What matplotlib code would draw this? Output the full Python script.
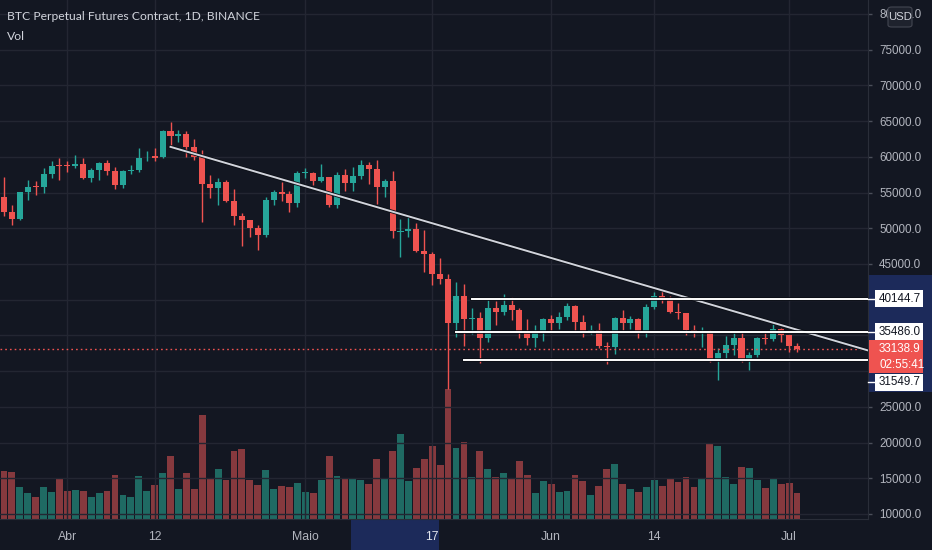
import numpy as np
import matplotlib
matplotlib.use("Agg")
import matplotlib.pyplot as plt
import matplotlib.transforms as mtransforms
import matplotlib.patheffects as pe
from matplotlib.patches import Rectangle, FancyBboxPatch

# daily candles, 24 Mar -> 2 Jul 2021
opens = [54342, 52303, 51293, 55025, 55817, 55777, 57628, 58730, 58736, 58720,
         58950, 57051, 58202, 59116, 57988, 56000, 58088, 58103, 59778, 60100,
         59958, 63575, 62959, 63159, 61334, 60006, 56150, 55633, 56425, 53787,
         51690, 51125, 50047, 49004, 54021, 55033, 54825, 53555, 57697, 57798,
         56578, 57169, 53205, 57436, 56393, 57315, 58866, 58240, 55816, 56670,
         49537, 49671, 49841, 46763, 46426, 43538, 42849, 36671, 40526, 37253,
         37449, 34681, 38810, 38324, 39241, 38529, 35661, 34606, 35641, 37254,
         36694, 37568, 39188, 36856, 35520, 35797, 33556, 33380, 37388, 36677,
         37331, 35546, 39021, 40516, 40143, 38349, 38099, 35820, 35483, 35600,
         31614, 32510, 33675, 34663, 31576, 32283, 34702, 34494, 35911, 35045,
         33502]
highs = [57200, 53230, 55073, 56700, 56559, 58400, 59368, 59800, 59490, 60200,
         59791, 58493, 59251, 59494, 58650, 58153, 58894, 61220, 60800, 61300,
         63800, 64854, 63800, 63565, 62500, 61000, 57526, 57076, 56757, 55500,
         52130, 51166, 50500, 54356, 55400, 56428, 55200, 58000, 58450, 57950,
         58981, 57200, 57911, 58360, 58650, 59500, 59300, 59500, 56862, 58000,
         51367, 51570, 50700, 49800, 46686, 45800, 43546, 42451, 42200, 38829,
         38270, 39920, 39791, 40841, 40411, 38877, 37338, 36400, 37499, 37894,
         38225, 39476, 39289, 37925, 36480, 36800, 34068, 37534, 38491, 37680,
         37463, 39380, 41064, 41330, 40527, 39560, 38200, 36457, 36139, 35750,
         33298, 34881, 35298, 35500, 32730, 34749, 35297, 36600, 36100, 35057,
         33977]
lows = [51700, 50427, 51229, 53962, 54691, 54900, 57000, 56769, 57935, 58428,
        56900, 56478, 56800, 57413, 55473, 55700, 57654, 57870, 59397, 59360,
        59800, 61301, 62020, 60000, 59580, 50931, 54221, 53329, 53695, 50400,
        47500, 48733, 47000, 48800, 53222, 53813, 52330, 53013, 57052, 56035,
        56435, 53046, 52900, 55200, 55241, 56900, 56235, 53400, 54370, 48600,
        46000, 48800, 46650, 43825, 42001, 42250, 27500, 34850, 33488, 35200,
        31111, 34031, 36419, 37800, 37134, 34684, 33632, 33379, 34153, 35666,
        35920, 37170, 35555, 34800, 35258, 33300, 31000, 32396, 35782, 35936,
        34600, 34757, 38730, 39506, 38116, 37365, 35129, 34803, 33336, 31251,
        28805, 31683, 32286, 31275, 30151, 31973, 33862, 34225, 34017, 32711,
        32699]
closes = [52303, 51293, 55025, 55817, 55777, 57628, 58730, 58700, 58720, 58950,
          57051, 58202, 59116, 57988, 56000, 58088, 58103, 59778, 59846, 59850,
          63577, 62959, 63159, 61334, 60006, 56150, 55633, 56425, 53787, 51690,
          51125, 50047, 49004, 54022, 55033, 54824, 53555, 57694, 57797, 56578,
          57169, 53200, 57436, 56393, 57314, 58862, 58240, 55816, 56670, 49631,
          49671, 49841, 46762, 46431, 43538, 42849, 36690, 40526, 37252, 37449,
          34655, 38796, 38324, 39241, 38529, 35664, 34606, 35641, 37253, 36694,
          37568, 39188, 36856, 35520, 35797, 33552, 33380, 37388, 36675, 37331,
          35546, 39020, 40516, 40144, 38349, 38092, 35819, 35483, 35600, 31608,
          32509, 33678, 34663, 31584, 32283, 34700, 34494, 35911, 35045, 33504,
          33139]
# volume, thousand BTC
volumes = [483, 473, 316, 260, 220, 316, 273, 413, 283, 293,
           283, 216, 260, 283, 436, 240, 216, 426, 283, 336,
           456, 633, 303, 460, 303, 1036, 403, 503, 393, 676,
           700, 393, 336, 493, 303, 326, 316, 360, 273, 260,
           393, 633, 426, 413, 406, 393, 350, 600, 403, 676,
           853, 383, 513, 600, 733, 543, 1300, 710, 773, 420,
           676, 500, 420, 456, 403, 576, 443, 260, 380, 346,
           270, 280, 443, 380, 236, 333, 500, 553, 346, 300,
           270, 323, 390, 333, 410, 370, 420, 323, 400, 763,
           730, 420, 346, 520, 510, 390, 313, 400, 346, 360,
           260]

time_ticks = [8, 19, 38, 54, 69, 82, 99]
time_labels = ["Abr", "12", "Maio", "17", "Jun", "14", "Jul"]
price_ticks = [10000, 15000, 20000, 25000, 45000, 50000, 55000, 60000,
               65000, 70000, 75000, 80000]
grid_prices = list(range(10000, 80001, 5000))

level_lines = [40144.7, 35486.0, 31549.7]
level_starts = [59, 57, 58]
trend_x = [21, 100]
trend_y = [61400, 35800]
last_price = 33138.9
countdown = "02:55:41"

BG = "#131722"
GRID = "#232632"
TXT = "#b2b5be"
UP = "#26a69a"
DOWN = "#ef5350"
VOL_UP = "#1f6a63"
VOL_DOWN = "#86393e"
HL = "#1c2a5a"
NUMFONT = "Liberation Sans"
TITLEFONT = "Lato"

W, H = 932, 550
fig = plt.figure(figsize=(W / 100, H / 100), dpi=100, facecolor=BG)
ax = fig.add_axes([0, 31 / H, 868 / W, 519 / H])
x = np.arange(len(opens))
o = np.array(opens, float)
c = np.array(closes, float)
up = c >= o

ax.set_xlim(-0.5, 108.95)
ax.set_ylim(9300, 81960)

# grid
for gp in grid_prices:
    ax.axhline(gp, color=GRID, lw=1, zorder=0)
for t in time_ticks:
    ax.axvline(t, color=GRID, lw=1, zorder=0)

# volume overlay (own hidden scale)
axv = ax.twinx()
axv.set_ylim(0, 5190)
axv.set_axis_off()
axv.bar(x, volumes, width=0.86, color=[VOL_UP if u else VOL_DOWN for u in up],
        lw=0, antialiased=False)
ax.set_zorder(axv.get_zorder() + 1)
ax.patch.set_visible(False)

# candles
cols = [UP if u else DOWN for u in up]
ax.vlines(x, lows, highs, colors=cols, lw=1, zorder=3)
body_lo = np.minimum(o, c)
body_h = np.maximum(np.abs(c - o), 120)
ax.bar(x, body_h, bottom=body_lo, width=0.76, color=cols, lw=0, zorder=4)

# drawings
xr = ax.get_xlim()[1]
shadow = [pe.Stroke(linewidth=2.6, foreground="#0b0e15"), pe.Normal()]
slope = (trend_y[1] - trend_y[0]) / (trend_x[1] - trend_x[0])
ax.plot([trend_x[0], xr], [trend_y[0], trend_y[0] + slope * (xr - trend_x[0])],
        color="#d1d4dc", lw=1.4, zorder=6, path_effects=shadow)
for lv, st in zip(level_lines, level_starts):
    ax.plot([st, xr], [lv, lv], color="white", lw=1.4, zorder=6, path_effects=shadow)
ax.axhline(last_price, color=DOWN, lw=1, ls=(0, (1.2, 2.2)), zorder=5)

# price scale on the right
ax.yaxis.tick_right()
ax.set_yticks(price_ticks)
ax.set_yticklabels([f"{p:.1f}" for p in price_ticks])
ax.tick_params(axis="y", length=3, width=1, color="#4a4e59", pad=5,
               labelcolor=TXT, labelsize=8.4)
ax.set_xticks(time_ticks)
ax.set_xticklabels(time_labels)
ax.tick_params(axis="x", length=0, pad=9, labelcolor=TXT, labelsize=8.8)
for lab in ax.get_xticklabels() + ax.get_yticklabels():
    lab.set_fontfamily(NUMFONT)
for lab in ax.get_xticklabels():
    if lab.get_text() == "17":
        lab.set_color("#e0e3eb")
for s in ax.spines.values():
    s.set_visible(False)
ax.spines["right"].set_visible(True)
ax.spines["right"].set_color("#2a2e39")
ax.spines["bottom"].set_visible(True)
ax.spines["bottom"].set_color("#2a2e39")

# highlighted ranges on both scales
tr_xfig = mtransforms.blended_transform_factory(ax.transData, fig.transFigure)
fig.add_artist(Rectangle((43.75, 0), 11.1, 30.5 / H, transform=tr_xfig,
                         facecolor=HL, edgecolor="none", zorder=0.5))
tr_yfig = mtransforms.blended_transform_factory(fig.transFigure, ax.transData)
fig.add_artist(Rectangle((869 / W, 27100), 63 / W, 16300, transform=tr_yfig,
                         facecolor=HL, edgecolor="none", zorder=0.5))


def price_px(p):
    return ax.transData.transform((0, p))[1]


def scale_label(price, text, shift=0):
    py = price_px(price) + shift
    fig.add_artist(plt.Line2D([868 / W, 876 / W], [py / H, py / H],
                              transform=fig.transFigure, color="white", lw=1, zorder=7))
    fig.add_artist(Rectangle((875 / W, (py - 8.5) / H), 48 / W, 17 / H,
                             transform=fig.transFigure, facecolor="white",
                             edgecolor="none", zorder=7))
    fig.text(879 / W, py / H, text, ha="left", va="center", fontsize=8.4,
             family=NUMFONT, color=BG, zorder=8)


scale_label(level_lines[0], f"{level_lines[0]:.1f}")
scale_label(level_lines[1], f"{level_lines[1]:.1f}")
scale_label(level_lines[2], f"{level_lines[2]:.1f}", shift=-22)

# last price + countdown box
py = price_px(last_price)
fig.add_artist(Rectangle((869 / W, (py - 24) / H), 54 / W, 33 / H,
                         transform=fig.transFigure, facecolor=DOWN,
                         edgecolor="none", zorder=7))
fig.text(879 / W, py / H, f"{last_price:.1f}", ha="left", va="center", fontsize=8.4,
         family=NUMFONT, color="white", zorder=8)
fig.text(879 / W, (py - 16) / H, countdown, ha="left", va="center", fontsize=8.4,
         family=NUMFONT, color="white", zorder=8)

# currency button
fig.add_artist(FancyBboxPatch((888 / W, (H - 27) / H), 24 / W, 20 / H,
                              boxstyle="round,pad=0,rounding_size=0.004",
                              transform=fig.transFigure, facecolor="#1e222d",
                              edgecolor="#434651", lw=0.8, zorder=9))
fig.text(900 / W, (H - 17) / H, "USD", ha="center", va="center", fontsize=8.2,
         family=NUMFONT, color="#d1d4dc", zorder=10)

# legend text
fig.text(7 / W, (H - 17) / H, "BTC Perpetual Futures Contract, 1D, BINANCE",
         ha="left", va="center", fontsize=8.7, family=TITLEFONT, color="#d1d4dc")
fig.text(7 / W, (H - 37) / H, "Vol", ha="left", va="center", fontsize=8.7,
         family=TITLEFONT, color="#d1d4dc")

fig.savefig("out.png", dpi=100, facecolor=BG)
